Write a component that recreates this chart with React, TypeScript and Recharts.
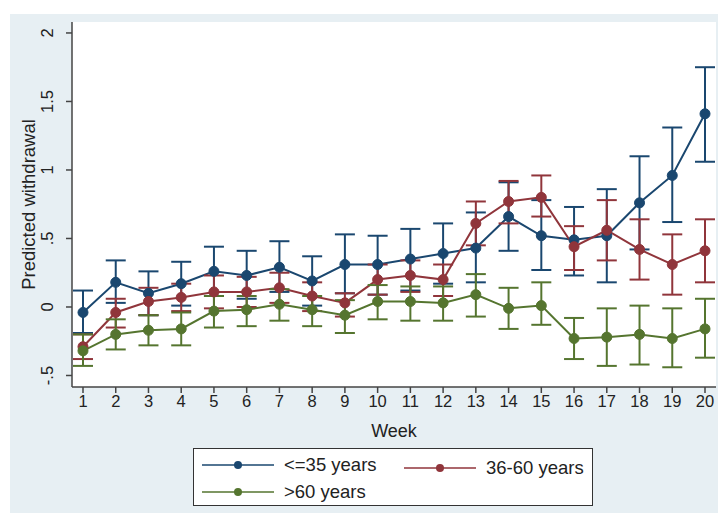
import {
  ComposedChart,
  Line,
  XAxis,
  YAxis,
  CartesianGrid,
  ErrorBar,
} from "recharts";

const BLUE = "#1a476f";
const RED = "#90353b";
const GREEN = "#55752f";
const FONT = "'Liberation Sans', Arial, sans-serif";

const weeks = [1, 2, 3, 4, 5, 6, 7, 8, 9, 10, 11, 12, 13, 14, 15, 16, 17, 18, 19, 20];

const youngMean = [-0.04, 0.18, 0.1, 0.17, 0.26, 0.23, 0.29, 0.19, 0.31, 0.31, 0.35, 0.39, 0.43, 0.66, 0.52, 0.49, 0.52, 0.76, 0.96, 1.41];
const youngLow = [-0.19, 0.03, -0.06, 0.01, 0.08, 0.06, 0.11, 0.01, 0.1, 0.09, 0.12, 0.17, 0.18, 0.41, 0.27, 0.23, 0.18, 0.42, 0.62, 1.06];
const youngHigh = [0.12, 0.34, 0.26, 0.33, 0.44, 0.41, 0.48, 0.37, 0.53, 0.52, 0.57, 0.61, 0.69, 0.91, 0.78, 0.73, 0.86, 1.1, 1.31, 1.75];

const midMean = [-0.29, -0.04, 0.04, 0.07, 0.11, 0.11, 0.14, 0.08, 0.03, 0.2, 0.23, 0.2, 0.61, 0.77, 0.8, 0.44, 0.56, 0.42, 0.31, 0.41];
const midLow = [-0.38, -0.15, -0.06, -0.03, -0.01, 0.0, 0.03, -0.03, -0.07, 0.09, 0.11, 0.08, 0.45, 0.61, 0.66, 0.27, 0.34, 0.2, 0.09, 0.18];
const midHigh = [-0.2, 0.06, 0.14, 0.17, 0.23, 0.22, 0.25, 0.18, 0.1, 0.31, 0.34, 0.31, 0.77, 0.92, 0.96, 0.59, 0.78, 0.64, 0.53, 0.64];

const oldMean = [-0.32, -0.2, -0.17, -0.16, -0.03, -0.02, 0.02, -0.02, -0.06, 0.04, 0.04, 0.03, 0.09, -0.01, 0.01, -0.23, -0.22, -0.2, -0.23, -0.16];
const oldLow = [-0.43, -0.31, -0.28, -0.28, -0.15, -0.14, -0.1, -0.14, -0.19, -0.09, -0.1, -0.1, -0.07, -0.16, -0.13, -0.38, -0.43, -0.42, -0.44, -0.37];
const oldHigh = [-0.2, -0.09, -0.06, -0.04, 0.08, 0.08, 0.13, 0.08, 0.05, 0.16, 0.15, 0.15, 0.24, 0.14, 0.18, -0.08, -0.01, 0.01, -0.01, 0.06];

const yTicks = [-0.5, 0, 0.5, 1, 1.5, 2];

const data = weeks.map((w, i) => ({
  week: w,
  young: youngMean[i],
  youngErr: [youngMean[i] - youngLow[i], youngHigh[i] - youngMean[i]],
  mid: midMean[i],
  midErr: [midMean[i] - midLow[i], midHigh[i] - midMean[i]],
  old: oldMean[i],
  oldErr: [oldMean[i] - oldLow[i], oldHigh[i] - oldMean[i]],
}));

// stata style: ".5" instead of "0.5"
function fmt(v: number): string {
  if (v === 0) return "0";
  return String(v).replace(/^(-?)0\./, "$1.");
}

function YTick({ x, y, payload }: any) {
  const tx = x - 11;
  return (
    <text
      x={tx}
      y={y}
      transform={`rotate(-90, ${tx}, ${y})`}
      textAnchor="middle"
      fontSize={16.5}
      fontFamily={FONT}
      fill="#222"
    >
      {fmt(payload.value)}
    </text>
  );
}

function LegendItem({ color, label }: { color: string; label: string }) {
  return (
    <div style={{ display: "flex", alignItems: "center" }}>
      <svg width={76} height={12} style={{ marginRight: 8 }}>
        <line x1={2} y1={6} x2={74} y2={6} stroke={color} strokeWidth={1.5} />
        <circle cx={38} cy={6} r={4} fill={color} />
      </svg>
      <span>{label}</span>
    </div>
  );
}

export default function App() {
  return (
    <div
      style={{
        position: "absolute",
        left: 0,
        top: 0,
        width: 718,
        height: 513,
        background: "#ffffff",
        fontFamily: FONT,
      }}
    >
      <div
        style={{
          position: "absolute",
          left: 10,
          top: 14,
          width: 708,
          height: 499,
          background: "#e7eff3",
        }}
      />
      <div style={{ position: "absolute", left: 0, top: 0 }}>
        <ComposedChart
          width={718}
          height={513}
          data={data}
          margin={{ top: 22, right: 2, bottom: 76, left: 0 }}
        >
          <CartesianGrid fill="#ffffff" horizontal={false} vertical={false} />
          <XAxis
            dataKey="week"
            type="number"
            domain={[0.664, 20.336]}
            ticks={weeks}
            interval={0}
            height={50}
            tickSize={6}
            tick={{ fontSize: 16.5, fill: "#222", fontFamily: FONT }}
            axisLine={{ stroke: "#444", strokeWidth: 1.5 }}
            tickLine={{ stroke: "#444", strokeWidth: 1.5 }}
            label={{
              value: "Week",
              position: "insideBottom",
              offset: 0,
              fontSize: 18,
              fill: "#222",
              fontFamily: FONT,
            }}
          />
          <YAxis
            type="number"
            domain={[-0.584, 2.08]}
            ticks={yTicks}
            width={72}
            tickSize={6}
            tick={<YTick />}
            axisLine={{ stroke: "#444", strokeWidth: 1.5 }}
            tickLine={{ stroke: "#444", strokeWidth: 1.5 }}
            allowDataOverflow
            label={{
              value: "Predicted withdrawal",
              angle: -90,
              position: "insideLeft",
              offset: 28,
              fontSize: 18.5,
              fill: "#222",
              fontFamily: FONT,
              style: { textAnchor: "middle" },
            }}
          />
          <Line
            dataKey="young"
            stroke={BLUE}
            strokeWidth={2}
            dot={{ r: 5, fill: BLUE, stroke: BLUE, strokeWidth: 1 }}
            isAnimationActive={false}
          >
            <ErrorBar dataKey="youngErr" direction="y" width={10} stroke={BLUE} strokeWidth={2} />
          </Line>
          <Line
            dataKey="mid"
            stroke={RED}
            strokeWidth={2}
            dot={{ r: 5, fill: RED, stroke: RED, strokeWidth: 1 }}
            isAnimationActive={false}
          >
            <ErrorBar dataKey="midErr" direction="y" width={10} stroke={RED} strokeWidth={2} />
          </Line>
          <Line
            dataKey="old"
            stroke={GREEN}
            strokeWidth={2}
            dot={{ r: 5, fill: GREEN, stroke: GREEN, strokeWidth: 1 }}
            isAnimationActive={false}
          >
            <ErrorBar dataKey="oldErr" direction="y" width={10} stroke={GREEN} strokeWidth={2} />
          </Line>
        </ComposedChart>
      </div>
      <div
        style={{
          position: "absolute",
          left: 193,
          top: 448,
          width: 400,
          height: 58,
          boxSizing: "border-box",
          border: "1.5px solid #333",
          background: "#ffffff",
          fontSize: 18.5,
          color: "#222",
          padding: "5px 0 0 6px",
        }}
      >
        <div style={{ display: "flex", height: 27 }}>
          <div style={{ width: 202 }}>
            <LegendItem color={BLUE} label="<=35 years" />
          </div>
          <LegendItem color={RED} label="36-60 years" />
        </div>
        <LegendItem color={GREEN} label=">60 years" />
      </div>
    </div>
  );
}
